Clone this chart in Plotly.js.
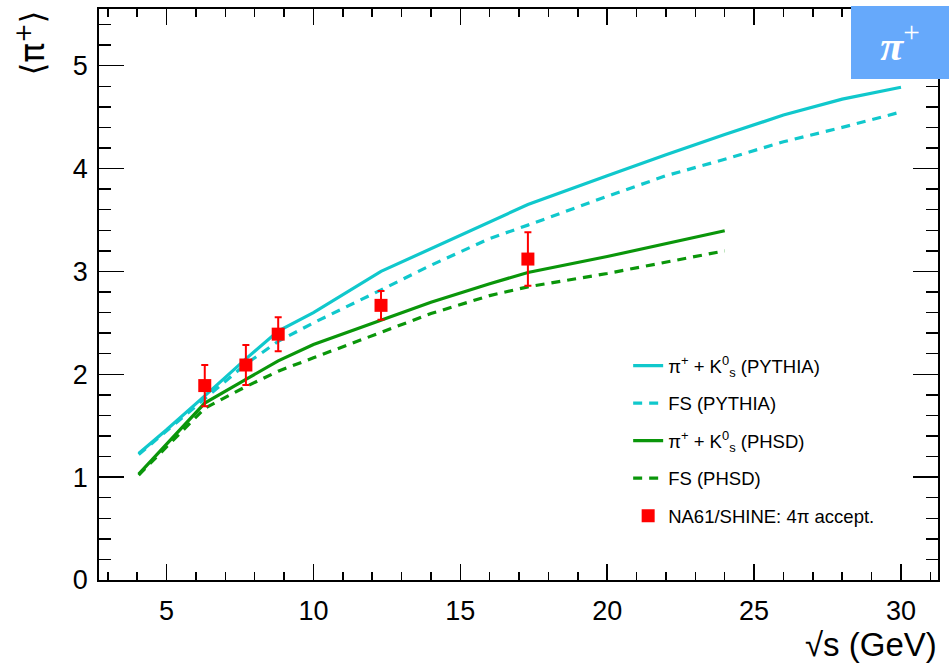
<!DOCTYPE html>
<html>
<head>
<meta charset="utf-8">
<script src="https://cdn.plot.ly/plotly-3.0.1.min.js"></script>
<style>
  html, body { margin: 0; padding: 0; background: #ffffff; }
  #chart { width: 949px; height: 664px; }
</style>
</head>
<body>
<div id="chart"></div>
<script>
// Mean pi+ multiplicity versus collision energy: PYTHIA and PHSD model curves with NA61/SHINE data
const sqrtSPythia = [4.05, 5, 6.3, 7.7, 8.8, 10, 12.3, 14, 16, 17.3, 20, 22, 24, 26, 28, 30];
const pythiaPiK0s = [1.23, 1.46, 1.79, 2.15, 2.42, 2.60, 3.00, 3.22, 3.48, 3.65, 3.93, 4.135, 4.33, 4.52, 4.675, 4.79];
const pythiaFS    = [1.22, 1.45, 1.76, 2.10, 2.32, 2.50, 2.82, 3.06, 3.32, 3.45, 3.73, 3.93, 4.09, 4.26, 4.40, 4.55];

const sqrtSPhsd = [4.05, 6.3, 7.7, 8.8, 10, 12.3, 14, 16, 17.3, 20, 22, 24];
const phsdPiK0s = [1.03, 1.72, 1.95, 2.13, 2.29, 2.53, 2.70, 2.88, 2.99, 3.145, 3.27, 3.395];
const phsdFS    = [1.02, 1.67, 1.88, 2.03, 2.16, 2.41, 2.59, 2.765, 2.85, 2.98, 3.09, 3.20];

const na61Energy = [6.3, 7.7, 8.8, 12.3, 17.3];
const na61Mean   = [1.89, 2.09, 2.39, 2.67, 3.12];
const na61Err    = [0.20, 0.195, 0.165, 0.14, 0.26];

const seriesNames = [
  'π<sup>+</sup> + K<sup>0</sup><sub>s</sub> (PYTHIA)',
  'FS (PYTHIA)',
  'π<sup>+</sup> + K<sup>0</sup><sub>s</sub> (PHSD)',
  'FS (PHSD)',
  'NA61/SHINE: 4π accept.'
];

const xTickVals = [5, 10, 15, 20, 25, 30];
const xTickText = ['5', '10', '15', '20', '25', '30'];
const yTickVals = [0, 1, 2, 3, 4, 5];
const yTickText = ['0', '1', '2', '3', '4', '5'];

const CYAN = '#10c8cc';
const GREEN = '#0a960a';
const FONT = 'Liberation Sans, Arial, Helvetica, sans-serif';

const traces = [
  { x: sqrtSPythia, y: pythiaPiK0s, name: seriesNames[0], legendgroup: 'a',
    mode: 'lines', line: { color: CYAN, width: 3.2 } },
  { x: sqrtSPythia, y: pythiaFS, name: seriesNames[1], legendgroup: 'b',
    mode: 'lines', line: { color: CYAN, width: 3.2, dash: '9px,7px' } },
  { x: sqrtSPhsd, y: phsdPiK0s, name: seriesNames[2], legendgroup: 'c',
    mode: 'lines', line: { color: GREEN, width: 3.2 } },
  { x: sqrtSPhsd, y: phsdFS, name: seriesNames[3], legendgroup: 'd',
    mode: 'lines', line: { color: GREEN, width: 3.2, dash: '9px,7px' } },
  { x: na61Energy, y: na61Mean, name: seriesNames[4], legendgroup: 'e',
    mode: 'markers', marker: { symbol: 'square', size: 13, color: '#ff0000' },
    error_y: { type: 'data', array: na61Err, visible: true, color: '#ff0000', thickness: 2, width: 3.5 } }
];

const layout = {
  width: 949,
  height: 664,
  paper_bgcolor: '#ffffff',
  plot_bgcolor: '#ffffff',
  margin: { l: 99, r: 11, t: 9, b: 84 },
  font: { family: FONT, color: '#000000' },
  showlegend: true,
  legend: {
    x: 0.6307, y: 0.408, xanchor: 'left', yanchor: 'top',
    bgcolor: 'rgba(0,0,0,0)', borderwidth: 0,
    font: { family: FONT, size: 18.5, color: '#000000' },
    traceorder: 'grouped', tracegroupgap: 10.5
  },
  xaxis: {
    range: [2.7, 31.26],
    tickmode: 'array', tickvals: xTickVals, ticktext: xTickText,
    ticks: 'inside', ticklen: 16, tickwidth: 1.5, tickcolor: '#000000',
    minor: { tickmode: 'linear', tick0: 0, dtick: 1, ticks: 'inside', ticklen: 8, tickwidth: 1.5, tickcolor: '#000000' },
    showline: true, linecolor: '#000000', linewidth: 1.8, mirror: 'ticks',
    showgrid: false, zeroline: false,
    tickfont: { family: FONT, size: 27, color: '#000000' },
    ticklabelstandoff: 6
  },
  yaxis: {
    range: [0, 5.551],
    tickmode: 'array', tickvals: yTickVals, ticktext: yTickText,
    ticks: 'inside', ticklen: 25, tickwidth: 1.5, tickcolor: '#000000',
    minor: { tickmode: 'linear', tick0: 0, dtick: 0.2, ticks: 'inside', ticklen: 12, tickwidth: 1.5, tickcolor: '#000000' },
    showline: true, linecolor: '#000000', linewidth: 1.8, mirror: 'ticks',
    showgrid: false, zeroline: false,
    tickfont: { family: FONT, size: 27, color: '#000000' },
    ticklabelstandoff: 4
  },
  annotations: [
    { // x-axis title, right aligned below the axis
      text: '√s (GeV)', xref: 'paper', yref: 'paper',
      x: 1.0, y: -0.1465, xanchor: 'right', yanchor: 'bottom', showarrow: false,
      borderpad: 0,
      font: { family: FONT, size: 33, color: '#000000' }
    },
    { // y-axis title, rotated, at the top of the axis
      text: '⟨π<sup>+</sup>⟩', xref: 'paper', yref: 'paper',
      x: -0.081, y: 1.0, xanchor: 'center', yanchor: 'top', showarrow: false,
      textangle: -90,
      font: { family: 'DejaVu Sans, Liberation Sans, sans-serif', size: 33, color: '#000000' }
    },
    { // particle badge in the top-right corner
      text: '<b><i>π</i></b><sup>+</sup>', xref: 'paper', yref: 'paper',
      x: 1.0135, y: 1.0053, xanchor: 'right', yanchor: 'top', showarrow: false,
      width: 98, height: 73, align: 'center', valign: 'middle',
      bgcolor: '#66a9fb', borderpad: 0, borderwidth: 0,
      font: { family: 'Liberation Serif, Times New Roman, serif', size: 42, color: '#ffffff' }
    }
  ]
};

Plotly.newPlot('chart', traces, layout, { displayModeBar: false, staticPlot: true });
</script>
</body>
</html>
